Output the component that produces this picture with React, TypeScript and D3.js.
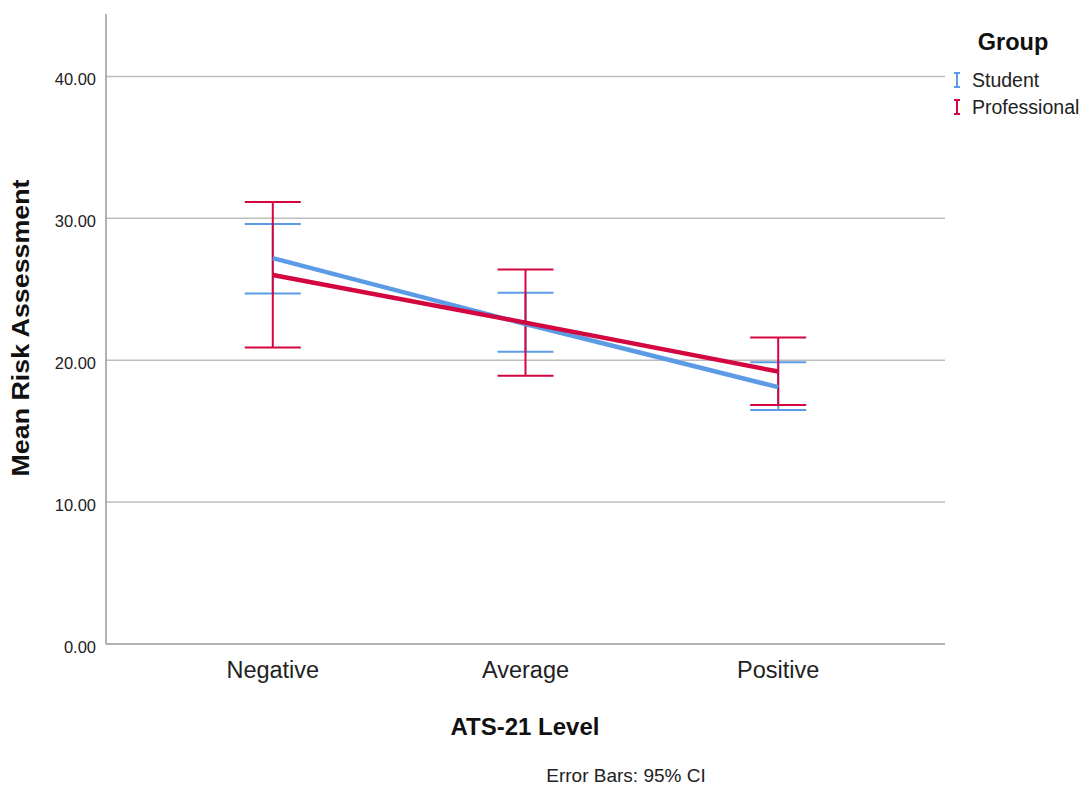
import React from "react";
import * as d3 from "d3";

const categories = ["Negative", "Average", "Positive"];
const groups = ["Student", "Professional"];
const studentMean = [27.2, 22.55, 18.1];
const studentLow = [24.7, 20.6, 16.5];
const studentHigh = [29.6, 24.75, 19.85];
const professionalMean = [26.0, 22.65, 19.2];
const professionalLow = [20.9, 18.9, 16.85];
const professionalHigh = [31.15, 26.4, 21.6];
const yTicks = [0, 10, 20, 30, 40];
const colors = ["#5b9be6", "#d3063f"];

export default function App() {
  const W = 1082, H = 787;
  const left = 106, right = 945, top = 14, bottom = 644;
  const x = d3.scalePoint<string>().domain(categories).range([left, right]).padding(0.66);
  const y = d3.scaleLinear().domain([0, 44.4]).range([bottom, top]);
  const series = [
    { name: groups[0], mean: studentMean, low: studentLow, high: studentHigh, color: colors[0] },
    { name: groups[1], mean: professionalMean, low: professionalLow, high: professionalHigh, color: colors[1] },
  ];
  const line = d3.line<number>().x((_, i) => x(categories[i])!).y((d) => y(d));
  const capHalf = 28;
  const font = "'Liberation Sans', Arial, sans-serif";
  return (
    <svg width={W} height={H} style={{ position: "absolute", left: 0, top: 0, background: "#fff" }} fontFamily={font}>
      {yTicks.filter((t) => t > 0).map((t) => (
        <line key={t} x1={left} x2={right} y1={y(t)} y2={y(t)} stroke="#bdbdbd" strokeWidth={1.5} />
      ))}
      {yTicks.map((t) => (
        <text key={"l" + t} x={96} y={y(t) + 8.5} textAnchor="end" fontSize={16.5} fill="#222">
          {t.toFixed(2)}
        </text>
      ))}
      <line x1={left} x2={left} y1={top} y2={bottom} stroke="#999" strokeWidth={1.5} />
      <line x1={left} x2={right} y1={bottom} y2={bottom} stroke="#999" strokeWidth={1.5} />
      {categories.map((c) => (
        <text key={c} x={x(c)} y={678} textAnchor="middle" fontSize={23.5} fill="#222">
          {c}
        </text>
      ))}
      {series.map((s) => (
        <g key={s.name}>
          {categories.map((c, i) => {
            const cx = x(c)!;
            return (
              <g key={c} stroke={s.color} strokeWidth={2} fill="none">
                <line x1={cx} x2={cx} y1={y(s.low[i])} y2={y(s.high[i])} />
                <line x1={cx - capHalf} x2={cx + capHalf} y1={y(s.low[i])} y2={y(s.low[i])} />
                <line x1={cx - capHalf} x2={cx + capHalf} y1={y(s.high[i])} y2={y(s.high[i])} />
              </g>
            );
          })}
        </g>
      ))}
      {series.map((s) => (
        <path key={"m" + s.name} d={line(s.mean)!} stroke={s.color} strokeWidth={4.5} fill="none" />
      ))}
      <text x={29} y={328} transform="rotate(-90,29,328)" textAnchor="middle" fontSize={23} fontWeight="bold" fill="#111" textLength={297} lengthAdjust="spacingAndGlyphs">
        Mean Risk Assessment
      </text>
      <text x={525} y={735} textAnchor="middle" fontSize={24} fontWeight="bold" fill="#111">
        ATS-21 Level
      </text>
      <text x={626} y={782} textAnchor="middle" fontSize={19} fill="#222">
        Error Bars: 95% CI
      </text>
      <text x={1013} y={50} textAnchor="middle" fontSize={23.5} fontWeight="bold" fill="#111">
        Group
      </text>
      {series.map((s, i) => {
        const cy = 80 + i * 27;
        return (
          <g key={"lg" + s.name}>
            <g stroke={s.color} strokeWidth={2}>
              <line x1={957} x2={957} y1={cy - 7} y2={cy + 7} />
              <line x1={954} x2={960} y1={cy - 7} y2={cy - 7} />
              <line x1={954} x2={960} y1={cy + 7} y2={cy + 7} />
            </g>
            <text x={972} y={cy + 7} fontSize={19.5} fill="#222">
              {s.name}
            </text>
          </g>
        );
      })}
    </svg>
  );
}
